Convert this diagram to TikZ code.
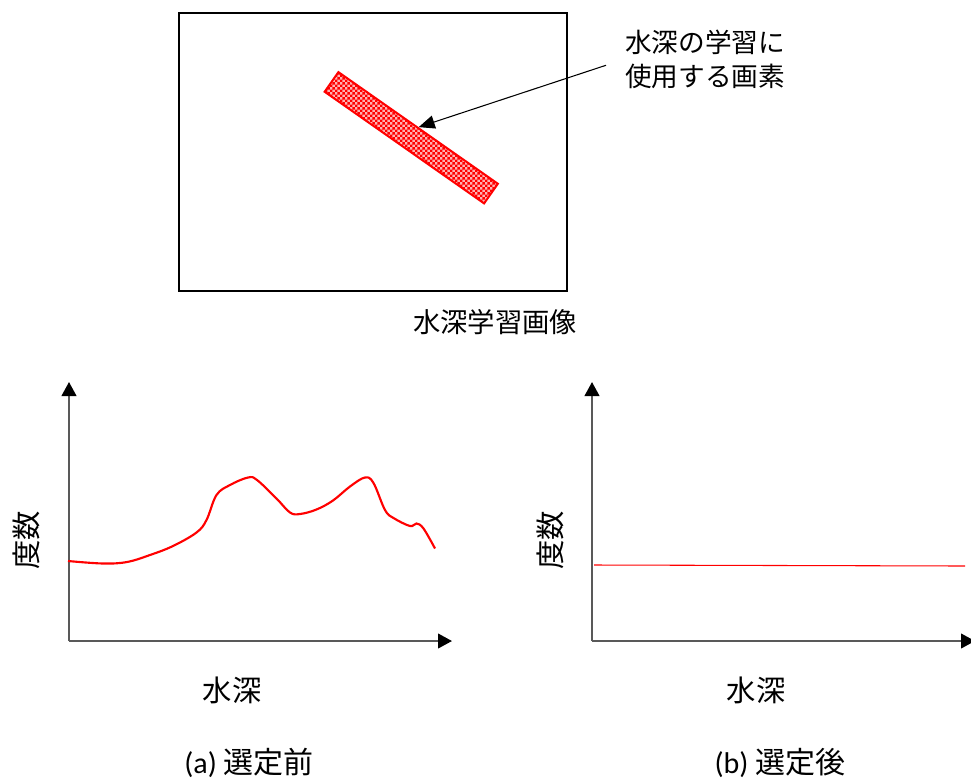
\documentclass[tikz,border=0pt]{standalone}
\usepackage{fontspec}
\setmainfont{Carlito}
\newfontfamily\jp{Noto Sans CJK JP}
\usetikzlibrary{arrows.meta,patterns.meta}

\tikzdeclarepattern{name=finechecks, type=uncolored,
    bottom left={(0pt,0pt)}, top right={(4pt,4pt)}, tile size={(4pt,4pt)},
    code={
        \pgfpathrectangle{\pgfpointorigin}{\pgfpoint{2pt}{2pt}}
        \pgfpathrectangle{\pgfpoint{2pt}{2pt}}{\pgfpoint{2pt}{2pt}}
        \pgfusepath{fill}
    }}

\begin{document}
\begin{tikzpicture}[x=0.75pt,y=-0.75pt,
    axis/.style={draw=black!65, line width=1.5pt,
        -{Triangle[color=black,length=10.5pt,width=11pt]}},
    pointer/.style={line width=0.8pt,
        -{Triangle[length=12pt,width=10pt]}},
    freq/.style={red, line width=1.6pt},
    lbl/.style={inner sep=0pt, font=\jp\fontsize{22}{26}\selectfont}]
    \useasboundingbox (0,0) rectangle (971,783);

    % Training image
    \node[draw, line width=1.5pt, minimum width=291pt, minimum height=208.5pt,
        inner sep=0pt] (img) at (373,152) {};
    \node[draw=red, line width=1.5pt, preaction={fill=red!30},
        pattern=finechecks, pattern color=red,
        minimum width=146pt, minimum height=18pt, inner sep=0pt,
        rotate=-35] (strip) at (411.25,137.75) {};
    \node[anchor=west, align=left, inner sep=0pt,
        font=\jp\fontsize{20}{25.5}\selectfont] (pix) at (625,59)
        {水深の学習に\\使用する画素};
    \draw[pointer, shorten <=15pt] (pix.west) -- (strip.north);
    \node[inner sep=0pt, font=\jp\fontsize{20.5}{24}\selectfont] (cap)
        at (495,322) {水深学習画像};

    % (a) before selection
    \coordinate (o1) at (69,641);
    \coordinate (yt1) at (69,382);
    \coordinate (xt1) at (452,641);
    \draw[axis] (o1) -- (yt1);
    \draw[axis] (o1) -- (xt1);
    \draw[freq] plot[smooth, tension=0.6] coordinates {
        (68,561) (103,563.5) (127,562) (150,555) (173,546) (196.5,532.5)
        (206.5,520) (216.5,495) (230,485) (248,477.5) (257,480)
        (276.5,498.5) (290,512.5) (300,514) (316.5,509.5) (333,500.5)
        (350,486.5) (365,477.5) (373.5,483) (385,510) (393.5,518)
        (410,526) (416.5,523.5) (423.5,528.5) (435,548.5)};
    \node[lbl, rotate=90] (fa) at (26,540) {度数};
    \node[lbl] (da) at (232,690) {水深};
    \node[inner sep=0pt, font=\fontsize{22.5}{26}\selectfont] (ca) at (249,763)
        {(a) {\jp 選定前}};

    % (b) after selection
    \coordinate (o2) at (592,641);
    \coordinate (yt2) at (592,382);
    \coordinate (xt2) at (975,641);
    \draw[axis] (o2) -- (yt2);
    \draw[axis] (o2) -- (xt2);
    \coordinate (f0) at (594,565);
    \coordinate (f1) at (965,566);
    \draw[red, line width=0.8pt] (f0) -- (f1);
    \node[lbl, rotate=90] (fb) at (550,540) {度数};
    \node[lbl] (db) at (756,690) {水深};
    \node[inner sep=0pt, font=\fontsize{22.5}{26}\selectfont] (cb) at (780,763)
        {(b) {\jp 選定後}};
\end{tikzpicture}
\end{document}
